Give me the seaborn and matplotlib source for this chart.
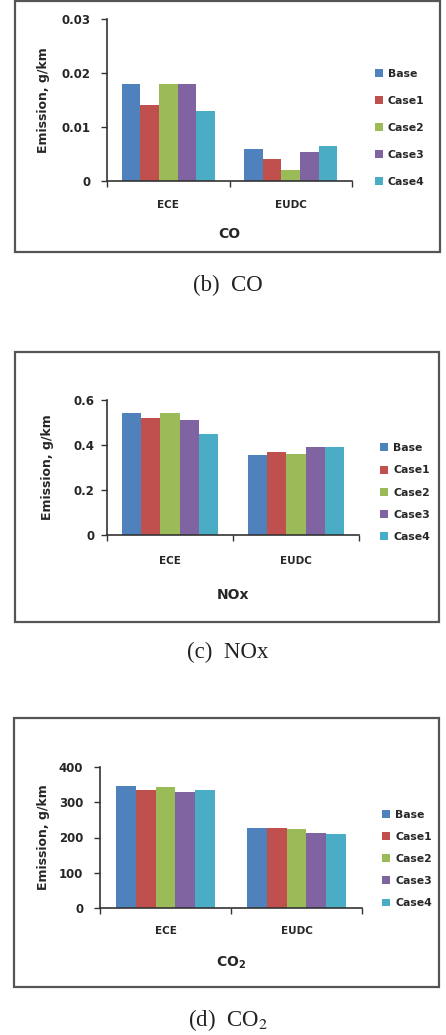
import matplotlib
matplotlib.use("Agg")
import matplotlib.pyplot as plt
import seaborn as sns
import pandas as pd
from matplotlib.patches import Rectangle
from matplotlib.ticker import FixedLocator

sns.set_theme(style="white")
plt.rcParams['font.family'] = ['DejaVu Sans']

cycles = ["ECE", "EUDC"]
cases = ["Base", "Case1", "Case2", "Case3", "Case4"]
palette = ["#4F81BD", "#C0504D", "#9BBB59", "#8064A2", "#4BACC6"]

co_ece = [0.018, 0.014, 0.018, 0.018, 0.013]
co_eudc = [0.006, 0.004, 0.002, 0.0053, 0.0065]
nox_ece = [0.54, 0.52, 0.54, 0.51, 0.45]
nox_eudc = [0.355, 0.37, 0.36, 0.39, 0.39]
co2_ece = [345, 335, 342, 330, 335]
co2_eudc = [226, 226, 224, 212, 210]

co_ticks = [0, 0.01, 0.02, 0.03]
co_ticklabels = ["0", "0.01", "0.02", "0.03"]
nox_ticks = [0, 0.2, 0.4, 0.6]
nox_ticklabels = ["0", "0.2", "0.4", "0.6"]
co2_ticks = [0, 100, 200, 300, 400]
co2_ticklabels = ["0", "100", "200", "300", "400"]

W, H = 446, 1035
fig = plt.figure(figsize=(W / 100, H / 100), dpi=100)
fig.patch.set_facecolor("white")

TXT = "#262626"


def frac(x0, y0, x1, y1):
    return [x0 / W, 1 - y1 / H, (x1 - x0) / W, (y1 - y0) / H]


def border(x0, y0, x1, y1):
    r = Rectangle((x0 / W, 1 - y1 / H), (x1 - x0) / W, (y1 - y0) / H,
                  transform=fig.transFigure, fill=False, edgecolor="#555555",
                  linewidth=1.6, zorder=0)
    fig.patches.append(r)


def panel(axbox, ece, eudc, ticks, ticklabels, title, legend_xy, labelspacing,
          ylabel_x, title_y, cat_y, ypad):
    ax = fig.add_axes(frac(*axbox))
    df = pd.DataFrame({
        "cycle": [c for c in cycles for _ in cases],
        "case": cases * 2,
        "value": list(ece) + list(eudc),
    })
    sns.barplot(data=df, x="cycle", y="value", hue="case", palette=palette,
                saturation=1, width=0.76, ax=ax, errorbar=None, linewidth=0)
    ax.set_xlim(-0.5, 1.5)
    ax.set_ylim(ticks[0], ticks[-1])
    ax.set_yticks(ticks)
    ax.set_yticklabels(ticklabels, fontsize=8.5, fontweight="bold", color=TXT)
    ax.set_xticks([0, 1])
    ax.set_xticklabels(cycles, fontsize=7.5, fontweight="bold", color=TXT)
    ax.tick_params(axis="x", which="major", length=0,
                   pad=(cat_y - axbox[3] - 5) * 0.72)
    ax.xaxis.set_minor_locator(FixedLocator([-0.5, 0.5, 1.5]))
    ax.tick_params(axis="x", which="minor", length=4, width=1, color="#333333",
                   direction="out", bottom=True)
    ax.tick_params(axis="y", length=4, width=1, color="#333333", direction="out",
                   left=True, pad=ypad)
    for s in ["top", "right"]:
        ax.spines[s].set_visible(False)
    for s in ["left", "bottom"]:
        ax.spines[s].set_color("#333333")
        ax.spines[s].set_linewidth(1.2)
    ax.set_xlabel("")
    ax.set_ylabel("")
    ax.set_facecolor("white")
    cy = (axbox[1] + axbox[3]) / 2
    fig.text(ylabel_x / W, 1 - cy / H, "Emission, g/km", rotation=90,
             ha="center", va="center", fontsize=9, fontweight="bold", color=TXT)
    cx = (axbox[0] + axbox[2]) / 2
    fig.text(cx / W, 1 - title_y / H, title, ha="center", va="center",
             fontsize=10, fontweight="bold", color=TXT)
    handles, labels = ax.get_legend_handles_labels()
    ax.legend(handles, labels, loc="center left",
              bbox_to_anchor=(legend_xy[0] / W, 1 - legend_xy[1] / H),
              bbox_transform=fig.transFigure, frameon=False,
              handlelength=0.75, handleheight=0.75, handletextpad=0.45,
              labelspacing=labelspacing, borderpad=0, borderaxespad=0,
              prop={"size": 7.8, "weight": "bold"}, labelcolor=TXT)
    return ax


CAP = dict(ha="center", va="center", fontsize=16.5, family="Liberation Serif",
           color="#222222")

# Panel (b) CO
border(15, 1, 440, 252)
panel((107, 19, 352, 181), co_ece, co_eudc, co_ticks, co_ticklabels, "CO",
      (375, 128), 1.58, 43, 234, 205, 8)
fig.text(228 / W, 1 - 285 / H, "(b)  CO", **CAP)

# Panel (c) NOx
border(15, 352, 439, 622)
panel((107, 400, 359, 535), nox_ece, nox_eudc, nox_ticks, nox_ticklabels, "NOx",
      (380, 492.5), 1.12, 47, 595, 561, 5)
fig.text(228 / W, 1 - 652 / H, "(c)  NOx", **CAP)

# Panel (d) CO2
border(14, 718, 439, 987)
panel((100, 767, 362, 908), co2_ece, co2_eudc, co2_ticks, co2_ticklabels, r"CO$_\mathbf{2}$",
      (382, 859), 1.12, 43, 963, 931, 8)
fig.text(228 / W, 1 - 1020 / H, "(d)  CO$_2$", math_fontfamily="stix", **CAP)

fig.savefig("out.png", dpi=100, facecolor="white")
